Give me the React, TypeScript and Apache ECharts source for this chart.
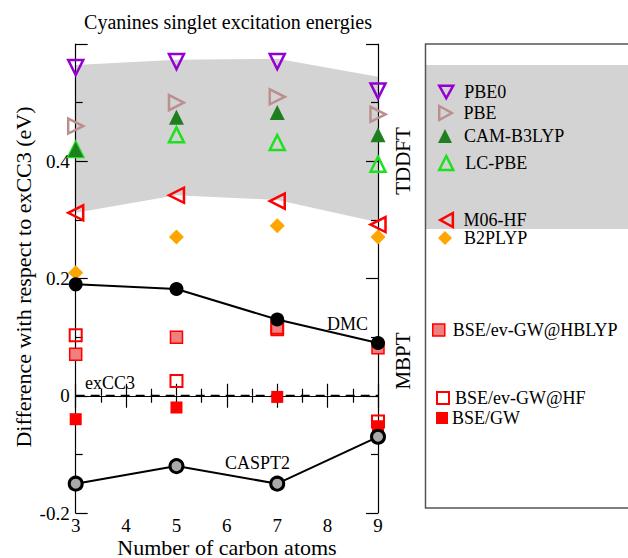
import React, { useEffect, useRef } from "react";
import * as echarts from "echarts";

const carbons = [3, 5, 7, 9];
const pbe0 = [0.56, 0.57, 0.57, 0.52];
const pbe = [0.46, 0.5, 0.51, 0.48];
const camB3lyp = [0.42, 0.475, 0.483, 0.445];
const lcPbe = [0.42, 0.445, 0.432, 0.395];
const m06hf = [0.312, 0.342, 0.332, 0.292];
const b2plyp = [0.21, 0.271, 0.29, 0.271];
const dmc = [0.19, 0.182, 0.13, 0.09];
const caspt2 = [-0.15, -0.12, -0.15, -0.07];
const evgwHblyp = [0.071, 0.1, 0.113, 0.082];
const evgwHf = [0.103, 0.025, 0.116, -0.044];
const bseGw = [-0.04, -0.02, -0.002, -0.052];
const excc3 = [0, 0, 0, 0];
const bandLower = [0.312, 0.342, 0.334, 0.296];
const bandUpper = [0.564, 0.573, 0.575, 0.544];

const FONT = "Liberation Serif";

const ICON_DOWN = "path://M0,0L10,0L5,9Z";
const ICON_RIGHT = "path://M0,0L9,5L0,10Z";
const ICON_LEFT = "path://M9,0L0,5L9,10Z";

const pts = (ys: number[]) => carbons.map((c, i) => [c, ys[i]]);

function legendFor(
  name: string,
  cx: number,
  cy: number,
  textLeft: number,
  itemStyle: any,
  size = 14,
  icon?: string
) {
  return {
    show: true,
    data: [icon ? { name, icon } : name],
    left: cx - size / 2,
    top: cy - 9,
    padding: 0,
    orient: "vertical",
    itemWidth: size,
    itemHeight: size,
    selectedMode: false,
    itemStyle: { opacity: 1, ...itemStyle },
    textStyle: {
      fontFamily: FONT,
      fontSize: 18,
      color: "#000",
      lineHeight: 18,
      padding: [0, 0, 0, textLeft - (cx + size / 2) - 5],
    },
  };
}

export default function App() {
  const ref = useRef<HTMLDivElement>(null);
  useEffect(() => {
    const chart = echarts.init(ref.current!, null, { renderer: "svg" });
    const scatter = (name: string, ys: number[], symbol: string, size: number, itemStyle: any, rotate = 0, z = 5) => ({
      name,
      type: "scatter",
      data: pts(ys),
      symbol,
      symbolSize: size,
      symbolRotate: rotate,
      itemStyle: { opacity: 1, ...itemStyle },
      z,
    });
    const open = (c: string, w = 2.5) => ({ color: "rgba(255,255,255,0)", borderColor: c, borderWidth: w });
    const axisCommon = {
      type: "value",
      z: 3,
      axisLine: { show: true, lineStyle: { color: "#000", width: 1.2 } },
      axisTick: { show: true, inside: true, length: 12, lineStyle: { color: "#000", width: 1.2 } },
      minorTick: { show: true, splitNumber: 2, length: 7, lineStyle: { color: "#000", width: 1.2 } },
      splitLine: { show: false },
    };
    const option: any = {
      animation: false,
      backgroundColor: "#fff",
      grid: { left: 75.7, right: 250, top: 44, bottom: 45, show: false },
      xAxis: [
        {
          ...axisCommon,
          min: 3,
          max: 9,
          interval: 1,
          axisLabel: { fontFamily: FONT, fontSize: 19, color: "#000", margin: 3 },
        },
        {
          ...axisCommon,
          position: "top",
          min: 3,
          max: 9,
          interval: 1,
          axisLabel: { show: false },
        },
      ],
      yAxis: [
        {
          ...axisCommon,
          min: -0.2,
          max: 0.6,
          interval: 0.2,
          axisLabel: {
            fontFamily: FONT,
            fontSize: 19,
            color: "#000",
            margin: 6,
            formatter: (v: number) => {
              const r = Math.round(v * 10) / 10;
              if (r >= 0.59) return "";
              return r === 0 ? "0" : String(r);
            },
          },
        },
        {
          ...axisCommon,
          position: "right",
          min: -0.2,
          max: 0.6,
          interval: 0.2,
          axisLabel: { show: false },
        },
      ],
      legend: [
        legendFor("PBE0", 445, 92, 463, open("#9400d3"), 14, ICON_DOWN),
        legendFor("PBE", 445, 113, 463, open("#bc8f8f"), 14, ICON_RIGHT),
        legendFor("CAM-B3LYP", 445, 136, 464, { color: "#1f7f1f", borderWidth: 0 }),
        legendFor("LC-PBE", 445, 163, 464, open("#1ee01e")),
        legendFor("M06-HF", 446, 220, 463, open("#ff0000"), 14, ICON_LEFT),
        legendFor("B2PLYP", 445, 238, 464, { color: "#ffa500", borderWidth: 0 }),
        legendFor("BSE/ev-GW@HBLYP", 438, 330, 452, { color: "#f08080", borderColor: "#ff0000", borderWidth: 1.5 }, 12),
        legendFor("BSE/ev-GW@HF", 442, 398, 454, { color: "#fff", borderColor: "#ff0000", borderWidth: 2 }, 12),
        legendFor("BSE/GW", 442, 418, 452, { color: "#ff0000", borderWidth: 0 }, 12),
      ],
      series: [
        {
          name: "TDDFT band",
          type: "custom",
          silent: true,
          z: 1,
          data: [0],
          renderItem: (params: any, api: any) => {
            const upper = carbons.map((c, i) => api.coord([c, bandUpper[i]]));
            const lower = carbons.map((c, i) => api.coord([c, bandLower[i]])).reverse();
            return {
              type: "polygon",
              shape: { points: upper.concat(lower) },
              style: { fill: "#d3d3d3" },
            };
          },
        },
        {
          name: "exCC3",
          type: "line",
          data: pts(excc3),
          symbol: "none",
          lineStyle: { color: "#000", width: 2, type: [9, 6] },
          z: 4,
        },
        scatter("BSE/GW", bseGw, "rect", 12, { color: "#ff0000" }),
        scatter("BSE/ev-GW@HBLYP", evgwHblyp, "rect", 12, { color: "#f08080", borderColor: "#ff0000", borderWidth: 1.5 }),
        scatter("BSE/ev-GW@HF", evgwHf, "rect", 12, { color: "rgba(255,255,255,0)", borderColor: "#ff0000", borderWidth: 2 }),
        scatter("B2PLYP", b2plyp, "diamond", 15, { color: "#ffa500" }),
        scatter("M06-HF", m06hf, "triangle", 15, open("#ff0000"), 90),
        scatter("LC-PBE", lcPbe, "triangle", 15, open("#1ee01e")),
        scatter("CAM-B3LYP", camB3lyp, "triangle", 15, { color: "#1f7f1f" }),
        scatter("PBE", pbe, "triangle", 15, open("#bc8f8f"), -90),
        scatter("PBE0", pbe0, "triangle", 15, open("#9400d3"), 180),
        {
          name: "DMC",
          type: "line",
          data: pts(dmc),
          symbol: "circle",
          symbolSize: 14,
          lineStyle: { color: "#000", width: 2 },
          itemStyle: { color: "#000" },
          z: 6,
        },
        {
          name: "CASPT2",
          type: "line",
          data: pts(caspt2),
          symbol: "circle",
          symbolSize: 13,
          lineStyle: { color: "#000", width: 2 },
          itemStyle: { color: "#aaaaaa", borderColor: "#000", borderWidth: 3 },
          z: 6,
        },
      ],
      graphic: [
        {
          type: "text",
          x: 228,
          y: 22,
          style: {
            text: "Cyanines singlet excitation energies",
            font: `20px "${FONT}"`,
            fill: "#000",
            textAlign: "center",
            textVerticalAlign: "middle",
          },
        },
        {
          type: "text",
          x: 227,
          y: 547,
          style: {
            text: "Number of carbon atoms",
            font: `22px "${FONT}"`,
            fill: "#000",
            textAlign: "center",
            textVerticalAlign: "middle",
          },
        },
        {
          type: "text",
          x: 23,
          y: 277,
          rotation: Math.PI / 2,
          style: {
            text: "Difference with respect to exCC3 (eV)",
            font: `22px "${FONT}"`,
            fill: "#000",
            textAlign: "center",
            textVerticalAlign: "middle",
          },
        },
        {
          type: "text",
          x: 327,
          y: 324,
          z: 10,
          style: { text: "DMC", font: `18px "${FONT}"`, fill: "#000", textVerticalAlign: "middle" },
        },
        {
          type: "text",
          x: 85,
          y: 383,
          z: 10,
          style: { text: "exCC3", font: `18px "${FONT}"`, fill: "#000", textVerticalAlign: "middle" },
        },
        {
          type: "text",
          x: 225,
          y: 463,
          z: 10,
          style: { text: "CASPT2", font: `18px "${FONT}"`, fill: "#000", textVerticalAlign: "middle" },
        },
        {
          type: "rect",
          z: 0,
          shape: { x: 426, y: 65, width: 210, height: 164 },
          style: { fill: "#d3d3d3" },
        },
        {
          type: "rect",
          z: 1,
          shape: { x: 425.5, y: 44, width: 220, height: 464 },
          style: { fill: "none", stroke: "#555", lineWidth: 1.5 },
        },
        {
          type: "text",
          x: 403,
          y: 161,
          rotation: Math.PI / 2,
          style: {
            text: "TDDFT",
            font: `21px "${FONT}"`,
            fill: "#000",
            textAlign: "center",
            textVerticalAlign: "middle",
          },
        },
        {
          type: "text",
          x: 403,
          y: 361,
          rotation: Math.PI / 2,
          style: {
            text: "MBPT",
            font: `21px "${FONT}"`,
            fill: "#000",
            textAlign: "center",
            textVerticalAlign: "middle",
          },
        },
      ],
    };
    chart.setOption(option);
    return () => chart.dispose();
  }, []);
  return (
    <div
      ref={ref}
      style={{ position: "fixed", left: 0, top: 0, width: 628, height: 558 }}
    />
  );
}
